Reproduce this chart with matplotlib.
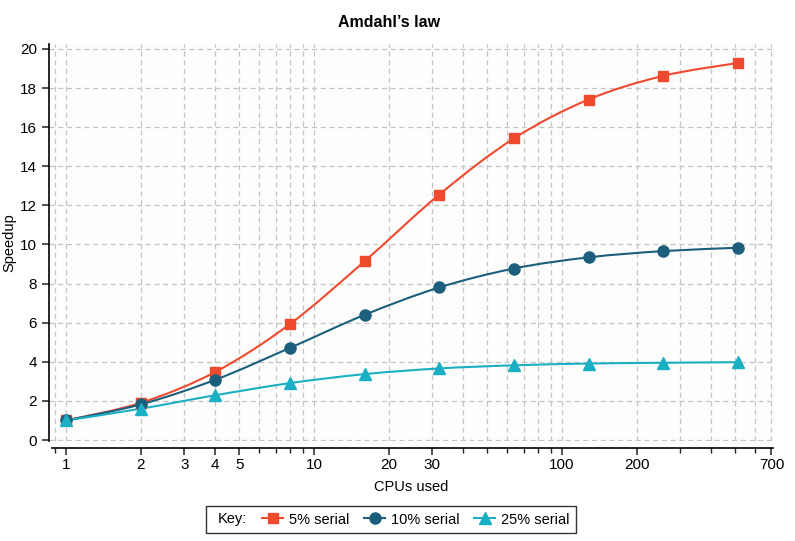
import numpy as np
import matplotlib
matplotlib.use("Agg")
import matplotlib.pyplot as plt
from matplotlib.path import Path
from matplotlib.patches import PathPatch
from matplotlib.lines import Line2D

plt.rcParams['font.family'] = ['Liberation Sans', 'DejaVu Sans']

# Data
cpus = [1, 2, 4, 8, 16, 32, 64, 128, 256, 512]
serial_5 = [1.0, 1.90, 3.48, 5.93, 9.14, 12.55, 15.42, 17.41, 18.62, 19.28]
serial_10 = [1.0, 1.82, 3.08, 4.71, 6.40, 7.80, 8.77, 9.34, 9.66, 9.83]
serial_25 = [1.0, 1.60, 2.29, 2.91, 3.37, 3.66, 3.82, 3.91, 3.95, 3.98]

xtick_vals = [1, 2, 3, 4, 5, 10, 20, 30, 100, 200, 700]
ytick_vals = [0, 2, 4, 6, 8, 10, 12, 14, 16, 18, 20]

series = [
    ('5% serial', serial_5, '#F04A2E', 's', 7.2),
    ('10% serial', serial_10, '#1B5F7D', 'o', 8.0),
    ('25% serial', serial_25, '#1AAFC2', '^', 8.0),
]


def smooth_path(xs, ys):
    """Catmull-Rom style bezier path, built in log-x space."""
    lx = np.log10(xs)
    ys = np.asarray(ys, dtype=float)
    verts = [(xs[0], ys[0])]
    codes = [Path.MOVETO]
    n = len(lx)
    for i in range(n - 1):
        p0 = i - 1 if i > 0 else i
        p3 = i + 2 if i + 2 < n else i + 1
        c1x = lx[i] + (lx[i + 1] - lx[p0]) / 6
        c1y = ys[i] + (ys[i + 1] - ys[p0]) / 6
        c2x = lx[i + 1] - (lx[p3] - lx[i]) / 6
        c2y = ys[i + 1] - (ys[p3] - ys[i]) / 6
        verts += [(10 ** c1x, c1y), (10 ** c2x, c2y), (xs[i + 1], ys[i + 1])]
        codes += [Path.CURVE4] * 3
    return Path(verts, codes)


fig = plt.figure(figsize=(7.95, 5.41), dpi=100)
ax = fig.add_axes([49 / 795, 1 - 441 / 541, 724 / 795, 397 / 541])
ax.set_facecolor('#fdfdfd')

ax.set_xscale('log')
ax.set_xlim(0.854, 710)
ax.set_ylim(-0.05, 20.25)

handles = []
for label, vals, color, marker, ms in series:
    ax.add_patch(PathPatch(smooth_path(cpus, vals), facecolor='none',
                           edgecolor=color, lw=1.5, zorder=3))
    ax.plot(cpus, vals, ls='none', marker=marker, ms=ms, color=color,
            mec=color, zorder=4)
    handles.append(Line2D([], [], color=color, marker=marker, ms=ms, lw=1.5))

ax.set_xticks(xtick_vals)
ax.set_xticklabels([str(v) for v in xtick_vals])
ax.set_yticks(ytick_vals)
ax.xaxis.set_minor_locator(matplotlib.ticker.LogLocator(base=10, subs=np.arange(1, 10)))
ax.xaxis.set_minor_formatter(matplotlib.ticker.NullFormatter())

ax.grid(True, which='both', axis='x', color='#c4c4c4', ls=(0, (4, 3)), lw=0.9)
ax.grid(True, which='major', axis='y', color='#c4c4c4', ls=(0, (4, 3)), lw=0.9)
ax.set_axisbelow(True)

for s in ['top', 'right']:
    ax.spines[s].set_visible(False)
ax.spines['left'].set_linewidth(1.2)
ax.spines['bottom'].set_linewidth(1.2)
ax.spines['bottom'].set_position(('outward', 5))
ax.spines['bottom'].set_bounds(0.878, 710)

ax.tick_params(axis='both', which='major', labelsize=11, length=5, width=1.1,
               color='#222222')
ax.tick_params(axis='x', which='minor', length=3.5, width=1.0, color='#222222')
ax.tick_params(axis='x', pad=2)

ax.set_xlabel('CPUs used', fontsize=10.5, labelpad=6)
ax.set_ylabel('Speedup', fontsize=10.5, labelpad=3)
fig.suptitle('Amdahl\u2019s law', fontsize=11.5, fontweight='bold', x=0.49, y=0.972)

blank = Line2D([], [], ls='none', marker='')
leg = fig.legend([blank] + handles, ['Key:'] + [s[0] for s in series],
                 ncol=4, loc='center', bbox_to_anchor=(391 / 795, 1 - 519.5 / 541),
                 fontsize=10.5, frameon=True, fancybox=False, edgecolor='black',
                 handlelength=1.45, handletextpad=0.4, columnspacing=1.0,
                 borderpad=0.45)
leg.get_frame().set_linewidth(1.0)
for vpack in leg._legend_handle_box.get_children()[:1]:
    for hpack in vpack.get_children():
        hpack.get_children()[0].set_width(0)

fig.savefig('out.png', dpi=100)
